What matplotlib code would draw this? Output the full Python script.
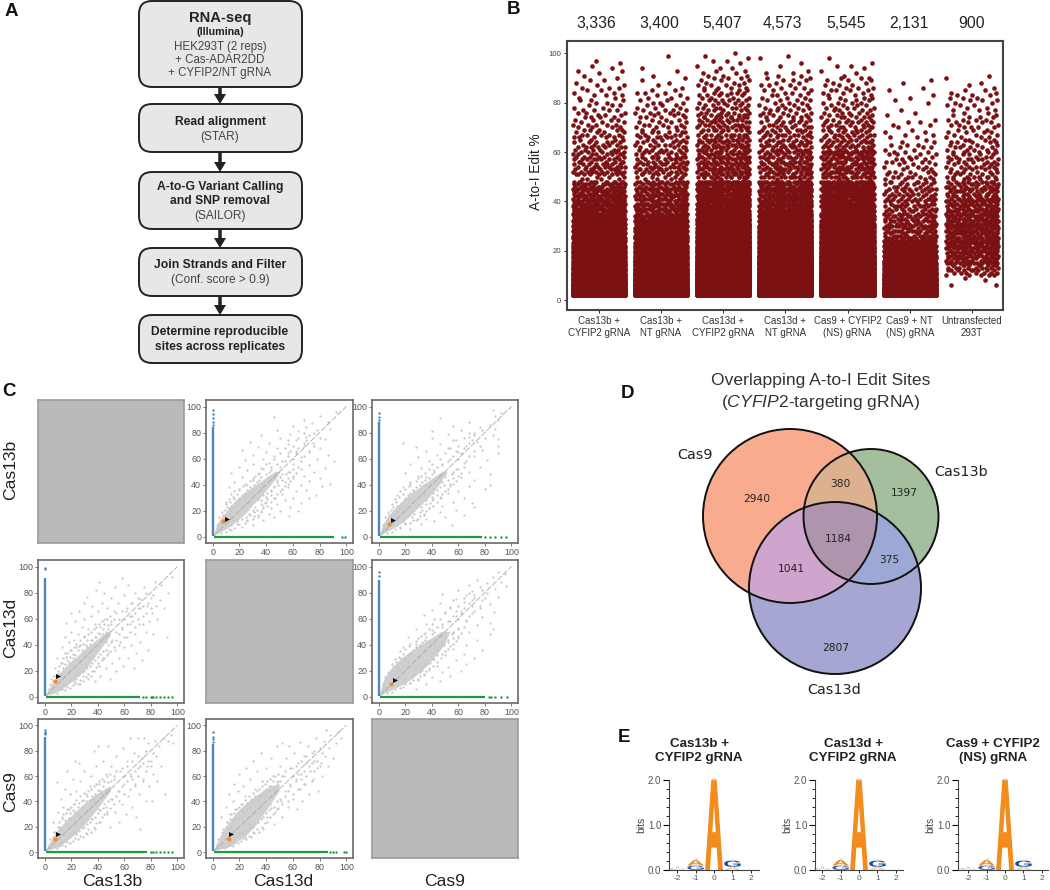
import numpy as np
import matplotlib
matplotlib.use('Agg')
import matplotlib.pyplot as plt
from matplotlib.colors import to_rgb
from matplotlib.font_manager import FontProperties
from matplotlib.patches import Circle, FancyArrow, FancyBboxPatch, PathPatch
from matplotlib.textpath import TextPath
from matplotlib.transforms import Affine2D

plt.rcParams['font.family'] = ['Liberation Sans', 'DejaVu Sans']
plt.rcParams['mathtext.fontset'] = 'custom'
plt.rcParams['mathtext.rm'] = 'Liberation Sans'
plt.rcParams['mathtext.it'] = 'Liberation Sans:italic'
plt.rcParams['axes.unicode_minus'] = False

W, H = 1050, 890

# panel A
flow_boxes = [(1, 87), (104, 152), (172, 229), (248, 296), (315, 363)]
flow_text = [
    ('RNA-seq', 18, 10.6, 'bold'), ('(Illumina)', 32, 7.7, 'bold'),
    ('HEK293T (2 reps)', 47, 8.3, 'normal'), ('+ Cas-ADAR2DD', 60, 8.3, 'normal'),
    ('+ CYFIP2/NT gRNA', 73, 8.3, 'normal'),
    ('Read alignment', 122, 8.7, 'bold'), ('(STAR)', 137, 8.6, 'normal'),
    ('A-to-G Variant Calling', 187, 8.7, 'bold'), ('and SNP removal', 201, 8.7, 'bold'),
    ('(SAILOR)', 216, 8.6, 'normal'),
    ('Join Strands and Filter', 265, 8.7, 'bold'), ('(Conf. score > 0.9)', 280, 8.6, 'normal'),
    ('Determine reproducible', 332, 8.7, 'bold'), ('sites across replicates', 347, 8.7, 'bold'),
]

# panel B: sites per whole percent of editing, starting at 1 %
strip_names = ['Cas13b +\nCYFIP2 gRNA', 'Cas13b +\nNT gRNA', 'Cas13d +\nCYFIP2 gRNA',
               'Cas13d +\nNT gRNA', 'Cas9 + CYFIP2\n(NS) gRNA', 'Cas9 + NT\n(NS) gRNA',
               'Untransfected\n293T']
strip_totals = ['3,336', '3,400', '5,407', '4,573', '5,545', '2,131', '900']
strip_total_x = [596, 659, 722, 782, 846, 909, 972]
c13b_crispr = [0, 220, 205, 190, 175, 160, 148, 135, 122, 110,
               98, 92, 86, 80, 75, 70, 65, 62, 58, 55,
               50, 48, 45, 42, 40, 38, 36, 34, 32, 30,
               28, 26, 25, 24, 22, 21, 20, 19, 18, 17,
               16, 16, 15, 14, 14, 13, 13, 12, 4, 3,
               9, 10, 8, 9, 8, 7, 9, 7, 8, 6,
               6, 7, 5, 6, 4, 6, 5, 4, 5, 4,
               5, 3, 4, 4, 3, 3, 4, 2, 3, 2,
               3, 2, 3, 2, 2, 3, 2, 1, 2, 1,
               1, 1, 2, 1, 1, 1, 1, 0, 0, 0]
c13b_nt = [0, 210, 200, 190, 180, 170, 160, 150, 140, 130,
           120, 110, 100, 95, 90, 80, 75, 70, 65, 60,
           55, 50, 50, 45, 40, 40, 36, 36, 32, 30,
           28, 26, 24, 22, 14, 16, 18, 14, 16, 14,
           15, 13, 14, 12, 13, 11, 12, 12, 4, 5,
           9, 8, 10, 8, 9, 8, 7, 8, 6, 6,
           7, 5, 6, 6, 5, 7, 5, 6, 3, 5,
           4, 4, 3, 4, 3, 5, 4, 3, 3, 3,
           2, 3, 2, 3, 2, 1, 1, 1, 1, 1,
           1, 0, 1, 1, 0, 0, 0, 0, 1, 0]
c13d_crispr = [0, 340, 320, 300, 280, 260, 240, 225, 210, 195,
               180, 170, 160, 150, 140, 130, 120, 112, 105, 98,
               92, 86, 80, 75, 70, 66, 62, 58, 55, 52,
               50, 48, 46, 40, 26, 26, 26, 26, 24, 24,
               24, 22, 22, 22, 22, 22, 22, 24, 3, 14,
               14, 12, 13, 11, 13, 12, 10, 12, 10, 11,
               9, 11, 10, 9, 10, 8, 10, 3, 9, 8,
               8, 7, 8, 9, 7, 6, 5, 7, 5, 5,
               6, 4, 5, 5, 4, 4, 4, 3, 3, 3,
               3, 2, 2, 2, 1, 1, 2, 1, 1, 1]
c13d_nt = [0, 300, 280, 260, 245, 230, 215, 200, 185, 172,
           160, 150, 140, 130, 120, 112, 105, 98, 90, 85,
           80, 75, 70, 66, 62, 58, 55, 52, 50, 46,
           44, 40, 36, 34, 26, 24, 24, 22, 22, 20,
           20, 20, 18, 18, 18, 17, 17, 18, 3, 12,
           11, 10, 12, 10, 11, 10, 9, 11, 8, 9,
           9, 7, 10, 8, 7, 5, 9, 6, 7, 6,
           5, 6, 5, 5, 4, 5, 4, 5, 4, 3,
           4, 3, 3, 3, 3, 3, 3, 2, 3, 2,
           2, 2, 1, 0, 1, 1, 0, 1, 1, 0]
c9_crispr = [0, 350, 330, 310, 290, 270, 250, 232, 215, 200,
             186, 174, 162, 150, 140, 130, 122, 114, 106, 100,
             94, 88, 82, 78, 72, 68, 64, 60, 56, 52,
             50, 46, 44, 40, 30, 28, 28, 26, 26, 26,
             24, 24, 22, 22, 22, 22, 22, 22, 3, 14,
             11, 12, 11, 13, 11, 12, 11, 13, 12, 13,
             8, 9, 7, 8, 8, 6, 8, 5, 7, 7,
             6, 7, 5, 6, 4, 5, 4, 5, 4, 4,
             3, 4, 3, 3, 4, 3, 3, 2, 3, 3,
             1, 1, 1, 1, 2, 1, 0, 1, 0, 0]
c9_nt = [0, 210, 195, 180, 165, 150, 135, 120, 105, 92,
         80, 72, 64, 56, 50, 44, 40, 36, 32, 30,
         28, 26, 24, 22, 14, 12, 11, 12, 10, 11,
         9, 11, 10, 12, 9, 8, 8, 9, 7, 8,
         9, 7, 8, 6, 7, 5, 6, 7, 4, 6,
         4, 5, 3, 4, 3, 5, 4, 3, 4, 3,
         2, 3, 3, 2, 1, 2, 2, 2, 1, 1,
         2, 2, 1, 0, 1, 1, 1, 0, 0, 1,
         1, 1, 1, 0, 1, 1, 0, 1, 1, 0]
untransfected = [0, 0, 0, 0, 0, 2, 0, 1, 1, 5,
                 7, 9, 9, 11, 12, 13, 13, 14, 16, 16,
                 17, 17, 17, 18, 17, 17, 17, 16, 17, 17,
                 17, 15, 15, 16, 14, 15, 13, 13, 14, 14,
                 12, 10, 9, 11, 8, 10, 10, 9, 5, 8,
                 5, 6, 5, 7, 5, 6, 7, 5, 5, 5,
                 5, 5, 4, 5, 4, 4, 3, 4, 3, 4,
                 3, 4, 4, 3, 2, 2, 3, 2, 3, 2,
                 3, 3, 3, 2, 2, 1, 1, 1, 0, 1, 1]
strip_counts = [c13b_crispr, c13b_nt, c13d_crispr, c13d_nt, c9_crispr, c9_nt, untransfected]
# horizontal spread of the strip plot
strip_jitter = [-.31, .12, .37, -.08, .25, -.40, .04, -.19, .33, -.27, .17, -.03, .41, -.36, .08, -.14,
                .29, -.24, .00, .38, -.33, .21, -.11, .35, -.05, .14, -.42, .27, -.17, .06, .40, -.29,
                .19, -.09, .31, -.38, .02, -.22, .24, -.13, .36, -.01, .10, -.34, .42, -.20, .16, -.07,
                .30, -.26, .07, -.39, .22, -.15, .34, -.04, .13, -.30, .39, -.12, .26]

# panel C: sparse sites away from the dense core, (x, y)
bd_pts = [(5, 14), (8, 22), (9, 30), (10, 18), (12, 26), (13, 38), (14, 22), (15, 34), (15, 46), (16, 57), (17, 28),
          (18, 42), (18, 20), (19, 36), (20, 64), (20, 50), (21, 30), (22, 44), (22, 12), (23, 58), (24, 38), (24, 18),
          (25, 48), (26, 28), (26, 66), (27, 40), (27, 10), (28, 54), (29, 34), (29, 16), (30, 72), (30, 46), (30, 60),
          (31, 24), (32, 77), (32, 38), (33, 52), (33, 14), (34, 30), (35, 62), (35, 44), (36, 20), (36, 70), (37, 36),
          (38, 56), (38, 12), (39, 82), (39, 46), (40, 26), (40, 66), (41, 88), (41, 38), (42, 54), (42, 16), (43, 72),
          (44, 30), (44, 48), (45, 80), (45, 60), (46, 22), (46, 42), (47, 68), (48, 34), (48, 52), (49, 14), (50, 76),
          (50, 58), (51, 26), (51, 44), (52, 66), (53, 36), (53, 84), (54, 20), (54, 50), (55, 72), (56, 30), (56, 60),
          (57, 42), (58, 91), (58, 54), (59, 24), (60, 78), (60, 38), (61, 66), (62, 46), (63, 30), (63, 86), (64, 56),
          (65, 72), (65, 40), (66, 62), (67, 22), (68, 80), (68, 48), (69, 34), (70, 68), (71, 56), (72, 75), (72, 42),
          (73, 28), (74, 62), (75, 84), (76, 50), (77, 70), (78, 36), (79, 58), (80, 76), (81, 64), (82, 48), (83, 88),
          (84, 70), (85, 60), (87, 74), (88, 86), (90, 68), (92, 46), (93, 80), (96, 92)]
b9_pts = [(6, 24), (8, 16), (9, 55), (10, 32), (11, 20), (12, 42), (13, 28), (14, 36), (15, 50), (16, 22), (17, 64),
          (18, 34), (19, 46), (20, 26), (21, 58), (22, 38), (23, 72), (24, 16), (24, 48), (25, 30), (26, 70), (27, 56),
          (28, 40), (29, 22), (30, 64), (31, 46), (32, 14), (33, 34), (34, 52), (35, 60), (36, 26), (37, 80), (37, 42),
          (38, 18), (39, 68), (40, 34), (40, 84), (41, 54), (42, 24), (43, 46), (44, 72), (45, 38), (46, 62), (47, 30),
          (48, 84), (48, 50), (49, 20), (50, 68), (51, 42), (52, 58), (53, 32), (54, 76), (55, 48), (56, 24), (57, 64),
          (58, 38), (59, 82), (60, 54), (61, 30), (62, 72), (63, 44), (64, 90), (65, 60), (66, 36), (67, 78), (68, 52),
          (69, 28), (70, 90), (70, 66), (71, 46), (72, 18), (73, 74), (74, 58), (75, 90), (76, 40), (77, 68), (78, 86),
          (79, 52), (80, 72), (81, 40), (82, 62), (83, 88), (84, 76), (85, 56), (86, 84), (88, 68), (90, 90), (91, 46),
          (93, 88), (95, 92), (97, 86)]
d9_pts = [(6, 28), (8, 18), (10, 36), (11, 24), (12, 46), (13, 30), (14, 20), (15, 40), (16, 54), (17, 26), (18, 34),
          (19, 48), (20, 16), (20, 62), (21, 38), (22, 28), (23, 52), (24, 12), (24, 44), (25, 66), (26, 34), (27, 22),
          (28, 58), (29, 42), (30, 16), (30, 72), (31, 30), (32, 50), (33, 64), (34, 24), (35, 44), (36, 78), (36, 34),
          (37, 56), (38, 18), (39, 46), (40, 66), (41, 28), (42, 52), (43, 38), (44, 74), (45, 60), (46, 22), (47, 46),
          (48, 84), (48, 34), (49, 56), (50, 68), (51, 40), (52, 86), (52, 28), (53, 60), (54, 48), (55, 74), (56, 36),
          (57, 84), (58, 54), (59, 66), (60, 42), (61, 78), (62, 58), (63, 34), (64, 70), (65, 87), (65, 50), (66, 62),
          (67, 40), (68, 76), (69, 54), (70, 70), (71, 84), (72, 46), (73, 64), (74, 78), (75, 58), (76, 72), (77, 90),
          (78, 66), (79, 48), (80, 82), (81, 70), (82, 60), (83, 88), (84, 76), (85, 96), (86, 68), (87, 82), (88, 92),
          (90, 74), (92, 86), (94, 95), (96, 90)]
# sites around the diagonal, seen about the same in every pair
mid_pts = [(3, 6), (4, 10), (5, 3), (6, 12), (7, 4), (7, 16), (8, 5), (9, 14), (9, 3), (10, 20), (11, 5), (11, 24),
           (12, 7), (12, 18), (13, 6), (13, 26), (14, 9), (14, 30), (15, 5), (15, 25), (16, 10), (16, 31), (17, 8),
           (17, 34), (18, 12), (18, 27), (19, 7), (19, 31), (20, 14), (20, 36), (21, 9), (21, 33), (22, 15), (22, 38),
           (23, 11), (23, 32), (24, 14), (24, 41), (25, 10), (25, 36), (26, 17), (26, 39), (27, 13), (27, 44), (28, 19),
           (28, 36), (29, 12), (29, 41), (30, 20), (30, 47), (31, 15), (31, 40), (32, 22), (32, 44), (33, 18), (33, 48),
           (34, 24), (34, 41), (35, 16), (35, 50), (36, 26), (36, 44), (37, 20), (37, 52), (38, 28), (38, 46), (39, 23),
           (39, 54), (40, 31), (40, 49), (41, 24), (41, 56), (42, 33), (42, 48), (43, 28), (43, 58), (44, 35), (44, 52),
           (45, 30), (45, 56), (46, 36), (46, 50), (47, 32), (47, 60), (48, 40), (48, 55), (49, 35), (49, 62), (50, 42),
           (50, 56), (52, 38), (52, 60), (54, 44), (54, 64), (56, 48), (56, 40), (58, 52), (58, 66), (60, 46), (60, 60),
           (62, 56), (62, 68), (64, 50), (64, 62), (66, 58), (66, 72), (68, 54), (68, 64), (70, 60), (70, 76), (72, 68),
           (74, 56), (74, 70), (76, 64), (76, 80), (78, 72), (80, 68), (82, 78)]
core_x = [1, 5, 10, 15, 20, 25, 30, 35, 40, 45, 50]
bd_lo = [1, 2, 4, 7, 11, 15, 20, 26, 33, 40, 47]
bd_hi = [1, 9, 16, 22, 27, 31, 36, 40, 44, 48, 51]
b9_lo = [1, 2, 4, 7, 11, 16, 21, 27, 34, 41, 48]
b9_hi = [1, 9, 17, 23, 28, 33, 38, 42, 46, 49, 52]
d9_lo = [1, 2, 3, 5, 9, 13, 18, 25, 32, 40, 48]
d9_hi = [1, 10, 20, 27, 33, 38, 42, 46, 50, 52, 54]
cloud_sets = {'bd': (bd_pts, bd_lo, bd_hi), 'b9': (b9_pts, b9_lo, b9_hi), 'd9': (d9_pts, d9_lo, d9_hi)}
axis_names = ['Cas13b', 'Cas13d', 'Cas9']
# row, col: cloud, swap x/y, blue end, blue extras, green end, green extras, black site, orange site
pair_panels = {
    (0, 1): ('bd', True, 84, [86, 88, 91, 94, 97], 91, [97, 99], (14, 11), (12, 8)),
    (0, 2): ('b9', True, 88, [90, 92, 95], 78, [80, 84, 88, 92, 96], (13, 11), (10, 8)),
    (1, 0): ('bd', False, 91, [98, 99], 72, [74, 76, 80, 81, 82, 84, 87, 90, 93, 96], (10, 16), (8, 12)),
    (1, 2): ('d9', True, 90, [93, 96], 80, [83, 85, 88, 92, 97], (13, 12), (10, 9)),
    (2, 0): ('b9', False, 91, [93, 94, 95, 96], 77, [80, 82, 84, 87, 90, 93, 96], (10, 14), (8, 10)),
    (2, 1): ('d9', False, 85, [87, 89, 91, 95], 86, [88, 90, 92, 98, 100], (14, 14), (12, 10)),
}
col_px = [(38, 184), (206, 353), (372, 518)]
row_px = [(400, 543), (560, 703), (719, 858)]
row_label_y = [470, 628, 792]
col_label_x = [112, 283, 445]
diag_ends = [1, 100]

# panel D
venn_counts = ['2940', '380', '1397', '1184', '375', '1041', '2807']
venn_count_px = [(757, 499), (840, 484), (904, 493), (838, 539), (889, 560), (791, 569), (836, 648)]
venn_circles = {'Cas9': (790, 516, 87), 'Cas13b': (871, 516.5, 67.5), 'Cas13d': (835, 588, 86)}
venn_labels = [('Cas9', 695, 455), ('Cas13b', 961, 472), ('Cas13d', 834, 690)]
# index: 1 Cas9, 2 Cas13b, 4 Cas13d, sums for overlaps
venn_colors = {0: None, 1: '#f9ab90', 2: '#a4c09e', 3: '#deb08f', 4: '#a5a6d3', 5: '#cfa5cd', 6: '#9da9d6', 7: '#ae95ad'}

# panel E
logo_titles = ['Cas13b +\nCYFIP2 gRNA', 'Cas13d +\nCYFIP2 gRNA', 'Cas9 + CYFIP2\n(NS) gRNA']
logo_title_x = [699, 853, 993]
logo_axes_px = [(669, 759, 714), (815, 903, 859), (958, 1048, 1005)]
logo_ticks = [-2, -1, 0, 1, 2]
logo_letters = ['C', 'G', 'A', 'A', 'G', 'A']
logo_pos = [-2, -1, -1, 0, 1, 1]
logo_bottom = [0.0, 0.0, 0.1, 0.0, 0.07, 0.0]
logo_height = [0.05, 0.1, 0.12, 2.0, 0.14, 0.06]
logo_colors = ['#c9d3e6', '#3d62ad', '#f28c1c', '#f28c1c', '#1d4fa6', '#f6c48c']

DARK = '#7b1113'


def axpx(x0, y0, x1, y1, **kw):
    return fig.add_axes([x0 / W, 1 - y1 / H, (x1 - x0) / W, (y1 - y0) / H], **kw)


fig = plt.figure(figsize=(W / 100, H / 100), dpi=100)
px = axpx(0, 0, W, H)
px.set_xlim(0, W)
px.set_ylim(H, 0)
px.axis('off')

# letters
for s, x, y in [('A', 11, 11), ('B', 513, 10), ('C', 9, 391), ('D', 627, 394), ('E', 624, 737)]:
    px.text(x, y, s, fontsize=13.5, fontweight='bold', ha='center', va='center', color='#111')

# A: flow chart
for top, bottom in flow_boxes:
    px.add_patch(FancyBboxPatch((139 + 13, top + 13), 163 - 26, bottom - top - 26,
                                boxstyle='round,pad=13,rounding_size=13',
                                fc='#e7e7e7', ec='#222222', lw=1.4))
for (_, b0), (t1, _) in zip(flow_boxes[:-1], flow_boxes[1:]):
    px.add_patch(FancyArrow(220, b0, 0, t1 - b0, width=3.5, head_width=12, head_length=10,
                            length_includes_head=True, color='#222222', lw=0))
for s, y, size, weight in flow_text:
    px.text(220, y, s, fontsize=size, fontweight=weight, ha='center', va='center',
            color='#222222' if weight == 'bold' else '#444444')

# B: strip plot
ax = axpx(567, 41, 1003, 310)
for k, counts in enumerate(strip_counts):
    y = np.repeat(np.arange(1, len(counts) + 1), counts)
    x = k + np.resize(np.roll(strip_jitter, 7 * k), len(y))
    ax.scatter(x, y, s=11, color=DARK, linewidths=0)
ax.set_xlim(-0.51, 6.5)
ax.set_ylim(-4.05, 105)
ax.set_xticks(range(7))
ax.set_xticklabels(strip_names, fontsize=7, color='#333333', linespacing=1.2)
ax.set_yticks(range(0, 101, 20))
ax.tick_params(axis='y', labelsize=5.6, labelcolor='#444444', length=2, width=0.6, pad=2)
ax.tick_params(axis='x', length=2, width=0.6, pad=2.5)
for sp in ax.spines.values():
    sp.set_linewidth(1.5)
    sp.set_color('#444444')
for s, x in zip(strip_totals, strip_total_x):
    px.text(x, 24, s, fontsize=11.3, ha='center', va='center', color='#222222')
px.text(536, 172, 'A-to-I Edit %', fontsize=9.8, rotation=90, ha='center', va='center', color='#222222')

# C: pairwise scatter
mid_x, mid_y = np.array(mid_pts).T
for r, (y0, y1) in enumerate(row_px):
    for c, (x0, x1) in enumerate(col_px):
        ax = axpx(x0, y0, x1, y1)
        if r == c:
            ax.set_facecolor('#b9babc')
            ax.set_xticks([])
            ax.set_yticks([])
            for sp in ax.spines.values():
                sp.set_color('#9a9a9a')
                sp.set_linewidth(1.2)
            continue
        name, swap, b_end, b_extra, g_end, g_extra, black, orange = pair_panels[(r, c)]
        pts, lo, hi = cloud_sets[name]
        sx, sy = np.array(pts).T
        cx = core_x + core_x[::-1]
        cy = lo + hi[::-1]
        mx, my = mid_x, mid_y
        if swap:
            sx, sy = sy, sx
            cx, cy = cy, cx
            mx, my = my, mx
            black, orange = black[::-1], orange[::-1]
        ax.fill(cx, cy, color='#d0d0d0', lw=0)
        ax.scatter(mx, my, s=2.8, color='#c8c8c8', linewidths=0)
        ax.scatter(sx, sy, s=2.5, color='#c8c8c8', linewidths=0)
        ax.plot(diag_ends, diag_ends, color='#a8a8a8', lw=0.6, ls=(0, (7, 2)))
        ax.plot([0, 0], [1, b_end], color='#4a86c0', lw=1.7, solid_capstyle='butt')
        ax.scatter([0] * len(b_extra), b_extra, s=3, color='#4a86c0', linewidths=0)
        ax.plot([1, g_end], [0, 0], color='#1f9a3c', lw=1.6, solid_capstyle='butt')
        ax.scatter(g_extra, [0] * len(g_extra), s=3, color='#1f9a3c', linewidths=0)
        ax.scatter(*orange, s=9, color='#f28c28', linewidths=0, zorder=4)
        ax.scatter(*black, s=13, color='#111111', marker='>', linewidths=0, zorder=5)
        ax.set_xlim(-5, 105)
        ax.set_ylim(-4.6, 105)
        ax.set_xticks(range(0, 101, 20))
        ax.set_yticks(range(0, 101, 20))
        ax.tick_params(labelsize=6.4, labelcolor='#555555', color='#666666', length=2, width=0.6, pad=1.5)
        for sp in ax.spines.values():
            sp.set_color('#6a6a6a')
            sp.set_linewidth(1.2)
for name, y in zip(axis_names, row_label_y):
    px.text(11, y, name, fontsize=12.6, rotation=90, ha='center', va='center', color='#222222')
for name, x in zip(axis_names, col_label_x):
    px.text(x, 882, name, fontsize=12.6, ha='center', va='center', color='#222222')

# D: venn, region colour by which circles cover the pixel
gx, gy = np.meshgrid(np.arange(690, 960, 0.5), np.arange(420, 685, 0.5))
region = np.zeros(gx.shape, dtype=int)
for bit, key in zip([1, 2, 4], ['Cas9', 'Cas13b', 'Cas13d']):
    cx, cy, rad = venn_circles[key]
    region += bit * ((gx - cx) ** 2 + (gy - cy) ** 2 <= rad ** 2)
rgba = np.zeros(gx.shape + (4,))
for idx, col in venn_colors.items():
    if col:
        rgba[region == idx] = to_rgb(col) + (1,)
px.imshow(rgba, extent=(690, 960, 685, 420), aspect='auto', interpolation='bilinear')
px.set_xlim(0, W)
px.set_ylim(H, 0)
for cx, cy, rad in venn_circles.values():
    px.add_patch(Circle((cx, cy), rad, fc='none', ec='#111111', lw=1.4))
for s, (x, y) in zip(venn_counts, venn_count_px):
    px.text(x, y, s, fontsize=7.7, family='DejaVu Sans', ha='center', va='center', color='#222222')
for s, x, y in venn_labels:
    px.text(x, y, s, fontsize=10.4, family='DejaVu Sans', ha='center', va='center', color='#222222')
px.text(821, 380, 'Overlapping A-to-I Edit Sites', fontsize=12.6, ha='center', va='center', color='#333333')
px.text(821, 403, r'($\mathit{CYFIP}$2-targeting gRNA)', fontsize=12.6, ha='center', va='center', color='#333333')

# E: sequence logos
logo_font = FontProperties(family='Liberation Sans', weight='bold')
for title, tx, (x0, x1, zero) in zip(logo_titles, logo_title_x, logo_axes_px):
    ax = axpx(x0, 780, x1, 870)
    ax.set_xlim((x0 - zero) / 18.4, (x1 - zero) / 18.4)
    ax.set_ylim(0, 2)
    for letter, pos, bot, hgt, col in zip(logo_letters, logo_pos, logo_bottom, logo_height, logo_colors):
        tp = TextPath((0, 0), letter, size=1, prop=logo_font)
        ext = tp.get_extents()
        tr = (Affine2D().translate(-ext.x0, -ext.y0).scale(0.9 / ext.width, hgt / ext.height)
              .translate(pos - 0.45, bot))
        ax.add_patch(PathPatch(tr.transform_path(tp), fc=col, ec=col, lw=0.9 if hgt > 1 else 0, clip_on=False))
    ax.vlines(logo_pos, [b + h for b, h in zip(logo_bottom, logo_height)],
              [b + h + 0.04 for b, h in zip(logo_bottom, logo_height)],
              color='#ccd6e8', lw=2, clip_on=False)
    ax.patch.set_alpha(0)
    ax.spines['top'].set_visible(False)
    ax.spines['right'].set_visible(False)
    ax.spines['left'].set_color('#444444')
    ax.spines['bottom'].set_color('#444444')
    ax.set_xticks(logo_ticks)
    ax.set_yticks([0, 1, 2])
    ax.set_yticklabels(['0.0', '1.0', '2.0'])
    ax.set_yticks(np.arange(0, 2.01, 0.2), minor=True)
    ax.tick_params(axis='y', labelsize=7, labelcolor='#555555', length=4, width=0.8, pad=1.5)
    ax.tick_params(axis='y', which='minor', length=2, width=0.6)
    ax.tick_params(axis='x', labelsize=6, labelcolor='#555555', length=2, width=0.6, pad=1.5)
    ax.set_ylabel('bits', fontsize=7.5, color='#444444', labelpad=1)
    px.text(tx, 751, title, fontsize=9.6, fontweight='bold', ha='center', va='center',
            color='#222222', linespacing=1.2)

fig.savefig('out.png', dpi=100)
